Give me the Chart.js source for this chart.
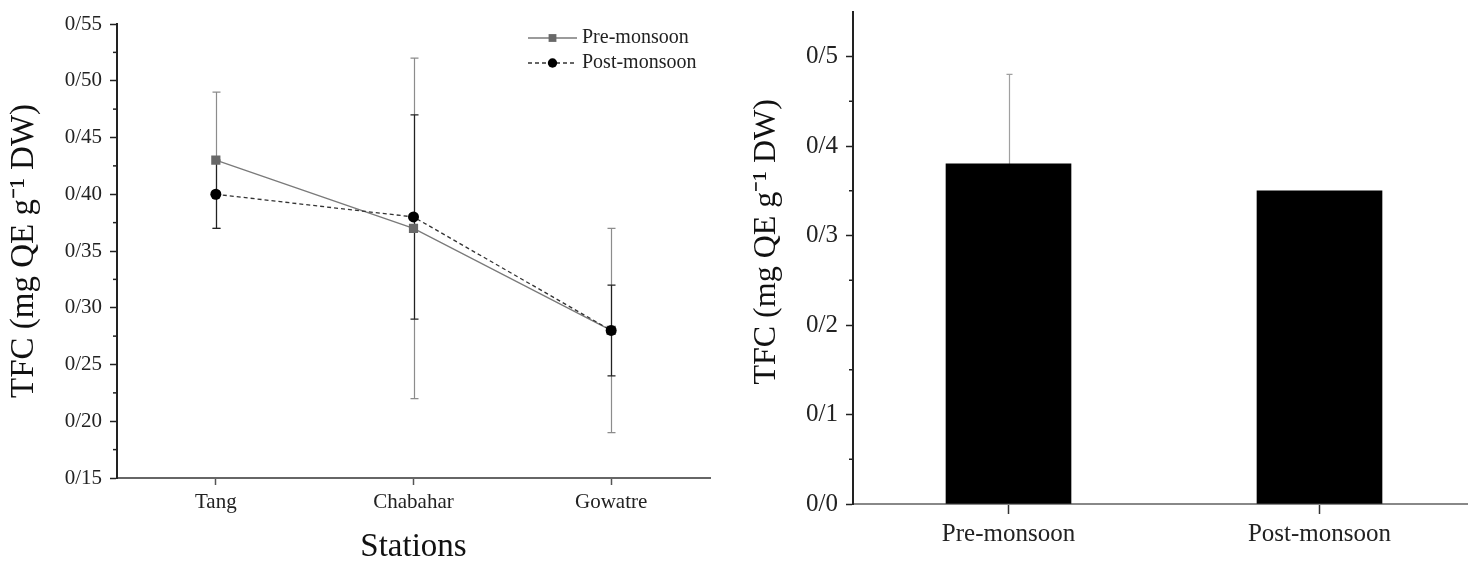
<!DOCTYPE html>
<html><head><meta charset="utf-8">
<script src="https://cdn.jsdelivr.net/npm/chart.js@4/dist/chart.umd.min.js"></script>
<style>
html,body{margin:0;padding:0;background:#fff;overflow:hidden;width:1468px;height:561px;}
#w1{position:absolute;left:0;top:0;width:740px;height:561px;}
#w2{position:absolute;left:740px;top:0;width:740px;height:561px;}
</style></head><body>
<div id="w1"><canvas id="c1"></canvas></div>
<div id="w2"><canvas id="c2"></canvas></div>
<script>
// ---- data ----
const stations = ['Tang', 'Chabahar', 'Gowatre'];
const preMonsoon = [0.43, 0.37, 0.28];
const preMonsoonErr = [0.06, 0.15, 0.09];
const postMonsoon = [0.40, 0.38, 0.28];
const postMonsoonErr = [0.03, 0.09, 0.04];

const seasons = ['Pre-monsoon', 'Post-monsoon'];
const seasonMeans = [0.38, 0.35];
const seasonErr = [0.10, 0];

const leftYTicks = [0.15, 0.20, 0.25, 0.30, 0.35, 0.40, 0.45, 0.50, 0.55];
const leftYMinor = [0.175, 0.225, 0.275, 0.325, 0.375, 0.425, 0.475, 0.525];
const rightYTicks = [0.0, 0.1, 0.2, 0.3, 0.4, 0.5];
const rightYMinor = [0.05, 0.15, 0.25, 0.35, 0.45];

const yTitle = 'TFC (mg QE g\u207B\u00B9 DW)';

Chart.defaults.font.family = '"Liberation Serif", "Times New Roman", serif';
Chart.defaults.color = '#222';

// ---- plugins ----
const errorBars = {
  id: 'errorBars',
  beforeDatasetsDraw(chart) {
    const ctx = chart.ctx, ys = chart.scales.y;
    chart.data.datasets.forEach((ds, i) => {
      if (!ds.errors) return;
      const meta = chart.getDatasetMeta(i);
      meta.data.forEach((el, j) => {
        const e = ds.errors[j];
        if (!e) return;
        const v = ds.data[j];
        const x = Math.round(el.x) + 0.5;
        const yt = ys.getPixelForValue(v + e), yb = ys.getPixelForValue(v - e);
        const c = ds.capHalf || 4;
        ctx.save();
        ctx.strokeStyle = ds.errorColor;
        ctx.lineWidth = 1.2;
        ctx.beginPath();
        ctx.moveTo(x, yt); ctx.lineTo(x, yb);
        ctx.moveTo(x - c, yt); ctx.lineTo(x + c, yt);
        ctx.moveTo(x - c, yb); ctx.lineTo(x + c, yb);
        ctx.stroke();
        ctx.restore();
      });
    });
  }
};

const minorTicks = {
  id: 'minorTicks',
  afterDraw(chart, args, opts) {
    const s = chart.scales.y, ctx = chart.ctx;
    ctx.save();
    ctx.strokeStyle = opts.color || '#222';
    ctx.lineWidth = 1.5;
    (opts.values || []).forEach(v => {
      const y = s.getPixelForValue(v);
      ctx.beginPath();
      ctx.moveTo(s.right - opts.len, y);
      ctx.lineTo(s.right, y);
      ctx.stroke();
    });
    ctx.restore();
  }
};

const lineLegend = {
  id: 'lineLegend',
  afterDraw(chart, args, opts) {
    if (!opts.show) return;
    const ctx = chart.ctx;
    chart.data.datasets.forEach((ds, i) => {
      const y = opts.y0 + i * opts.dy, x0 = opts.x;
      ctx.save();
      ctx.strokeStyle = ds.borderColor;
      ctx.lineWidth = ds.borderWidth;
      ctx.setLineDash(ds.borderDash || []);
      ctx.beginPath(); ctx.moveTo(x0, y); ctx.lineTo(x0 + opts.len, y); ctx.stroke();
      ctx.setLineDash([]);
      ctx.fillStyle = ds.pointBackgroundColor;
      ctx.strokeStyle = ds.pointBorderColor;
      Chart.helpers.drawPoint(ctx, {pointStyle: ds.pointStyle, radius: ds.pointRadius * 0.85, borderWidth: 0, rotation: 0}, x0 + opts.len / 2, y);
      ctx.fillStyle = '#222';
      ctx.font = opts.fontSize + 'px "Liberation Serif", serif';
      ctx.textBaseline = 'middle';
      ctx.textAlign = 'left';
      ctx.fillText(ds.label, x0 + opts.len + 5, y);
      ctx.restore();
    });
  }
};

const fmt2 = v => (Math.round(v * 100) / 100).toFixed(2).replace('.', '/');
const fmt1 = v => (Math.round(v * 10) / 10).toFixed(1).replace('.', '/');

// ---- left chart ----
new Chart(document.getElementById('c1'), {
  type: 'line',
  data: {
    labels: stations,
    datasets: [
      {label: 'Pre-monsoon', data: preMonsoon, errors: preMonsoonErr, errorColor: '#8c8c8c', order: 2,
       borderColor: '#7a7a7a', borderWidth: 1.3, pointStyle: 'rect', pointRadius: 6.5,
       pointBackgroundColor: '#686868', pointBorderColor: '#686868', pointBorderWidth: 0, tension: 0, capHalf: 4},
      {label: 'Post-monsoon', data: postMonsoon, errors: postMonsoonErr, errorColor: '#222', order: 1,
       borderColor: '#333', borderWidth: 1.3, borderDash: [4, 3], pointStyle: 'circle', pointRadius: 5.5,
       pointBackgroundColor: '#000', pointBorderColor: '#000', pointBorderWidth: 0, tension: 0, capHalf: 4}
    ]
  },
  options: {
    responsive: true, maintainAspectRatio: false, animation: false,
    layout: {padding: {top: 24, right: 30, left: 0, bottom: 0}},
    plugins: {
      legend: {display: false}, tooltip: {enabled: false},
      lineLegend: {show: true, x: 528, len: 49, y0: 38, dy: 25, fontSize: 20},
      minorTicks: {values: leftYMinor, len: 4, color: '#222'}
    },
    scales: {
      x: {
        type: 'category', offset: true,
        grid: {display: true, drawOnChartArea: false, offset: false, tickLength: 7, tickColor: '#555', tickWidth: 1.5},
        border: {color: '#666', width: 2},
        ticks: {font: {size: 21}, color: '#222', padding: 5},
        title: {display: true, text: 'Stations', font: {size: 33, lineHeight: 0.8}, color: '#111', padding: {top: 0, bottom: 0}},
        afterFit(s) { s.height = 83; }
      },
      y: {
        min: 0.15, max: 0.55,
        afterBuildTicks(s) { s.ticks = leftYTicks.map(v => ({value: v})); },
        ticks: {callback: v => fmt2(v), font: {size: 21}, color: '#222', padding: 8},
        grid: {drawOnChartArea: false, tickLength: 7, tickColor: '#222', tickWidth: 1.5},
        border: {color: '#222', width: 2},
        title: {display: true, text: yTitle, font: {size: 33, lineHeight: 1}, color: '#111', padding: {top: 8, bottom: 0}},
        afterFit(s) { s.width = 117; }
      }
    }
  },
  plugins: [errorBars, minorTicks, lineLegend]
});

// ---- right chart ----
new Chart(document.getElementById('c2'), {
  type: 'bar',
  data: {
    labels: seasons,
    datasets: [
      {label: 'TFC', data: seasonMeans, errors: seasonErr, errorColor: '#a0a0a0', capHalf: 3,
       backgroundColor: '#000', borderWidth: 0, barThickness: 125}
    ]
  },
  options: {
    responsive: true, maintainAspectRatio: false, animation: false,
    layout: {padding: {top: 11, right: 5, left: 0, bottom: 0}},
    plugins: {
      legend: {display: false}, tooltip: {enabled: false},
      lineLegend: {show: false},
      minorTicks: {values: rightYMinor, len: 4, color: '#222'}
    },
    scales: {
      x: {
        type: 'category', offset: true,
        grid: {display: true, drawOnChartArea: false, offset: false, tickLength: 10, tickColor: '#333', tickWidth: 1.5},
        border: {color: '#888', width: 2},
        ticks: {font: {size: 25}, color: '#222', padding: 5},
        afterFit(s) { s.height = 57; }
      },
      y: {
        min: 0, max: 0.55,
        afterBuildTicks(s) { s.ticks = rightYTicks.map(v => ({value: v})); },
        ticks: {callback: v => fmt1(v), font: {size: 25, lineHeight: 0.3}, color: '#222', padding: 8},
        grid: {drawOnChartArea: false, tickLength: 7, tickColor: '#222', tickWidth: 1.5},
        border: {color: '#222', width: 2},
        title: {display: true, text: '\u2002\u2002' + yTitle, font: {size: 32, lineHeight: 1}, color: '#111', padding: {top: 11, bottom: 0}},
        afterFit(s) { s.width = 113; }
      }
    }
  },
  plugins: [errorBars, minorTicks]
});
</script>
</body></html>
